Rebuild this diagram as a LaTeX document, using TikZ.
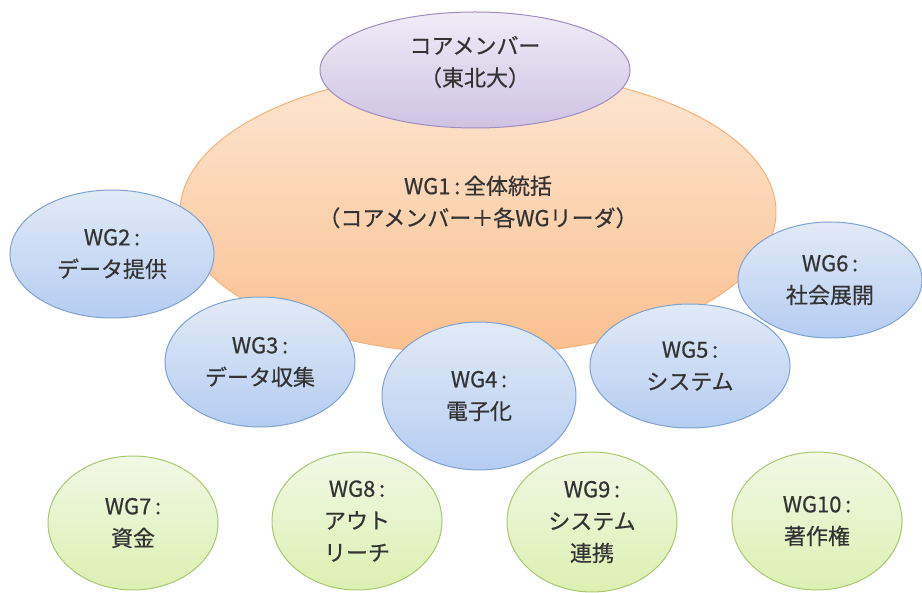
\documentclass[tikz,border=0pt]{standalone}
\usepackage{fontspec}
\setmainfont{Noto Sans CJK JP}[FakeBold=0.5]
\usetikzlibrary{shapes.geometric}
\definecolor{orTop}{HTML}{FDE6D2}
\definecolor{orBot}{HTML}{FAC08F}
\definecolor{orLine}{HTML}{F6B27A}
\definecolor{puTop}{HTML}{F0ECF7}
\definecolor{puBot}{HTML}{CEC3E2}
\definecolor{puLine}{HTML}{9F8CC0}
\definecolor{blTop}{HTML}{E2EAF7}
\definecolor{blBot}{HTML}{B4CDF2}
\definecolor{blLine}{HTML}{7FA3D0}
\definecolor{grTop}{HTML}{F2F8E4}
\definecolor{grBot}{HTML}{DCF0B2}
\definecolor{grLine}{HTML}{A9C870}
\definecolor{txt}{HTML}{333333}
\begin{document}
\begin{tikzpicture}[x=1pt,y=-1pt,
  blob/.style={ellipse,inner sep=0pt,align=center,font=\fontsize{22}{32}\selectfont,text=txt,line width=1pt},
  orangeblob/.style={blob,draw=orLine,top color=orTop,bottom color=orBot},
  purpleblob/.style={blob,draw=puLine,top color=puTop,bottom color=puBot},
  blueblob/.style={blob,draw=blLine,top color=blTop,bottom color=blBot},
  greenblob/.style={blob,draw=grLine,top color=grTop,bottom color=grBot},
  label/.style={align=center,font=\fontsize{22}{32}\selectfont,text=txt,inner sep=0pt}]
\useasboundingbox (0,0) rectangle (922,593);
\fill[white] (0,0) rectangle (922,593);
\node[orangeblob,minimum width=596pt,minimum height=284pt] (wg1) at (478,212) {};
\node[label] (wg1text) at (478,202) {WG1\,:\,全体統括\\（コアメンバー＋各WGリーダ）};
\node[purpleblob,minimum width=310pt,minimum height=116pt] (core) at (475,70) {};
\node[label] (coretext) at (475,62) {コアメンバー\\（東北大）};
\node[blueblob,minimum width=204pt,minimum height=128pt] (wg2) at (112,254) {WG2\,:\\データ提供};
\node[blueblob,minimum width=184pt,minimum height=116pt] (wg6) at (830,280) {WG6\,:\\社会展開};
\node[blueblob,minimum width=190pt,minimum height=130pt] (wg3) at (260,362) {WG3\,:\\データ収集};
\node[blueblob,minimum width=194pt,minimum height=148pt] (wg4) at (479,396) {WG4\,:\\電子化};
\node[blueblob,minimum width=200pt,minimum height=124pt] (wg5) at (690,366) {WG5\,:\\システム};
\node[greenblob,minimum width=170pt,minimum height=134pt] (wg7) at (133,523) {WG7\,:\\資金};
\node[greenblob,minimum width=170pt,minimum height=138pt] (wg8) at (357,521) {WG8\,:\\アウト\\リーチ};
\node[greenblob,minimum width=170pt,minimum height=140pt] (wg9) at (592,522) {WG9\,:\\システム\\連携};
\node[greenblob,minimum width=170pt,minimum height=138pt] (wg10) at (817,521) {WG10\,:\\著作権};
\end{tikzpicture}
\end{document}
